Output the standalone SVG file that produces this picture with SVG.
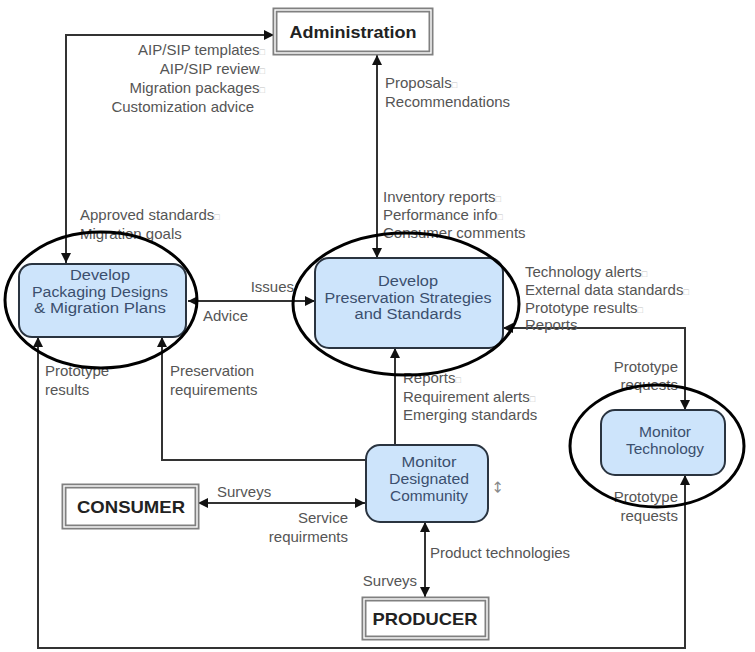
<svg xmlns="http://www.w3.org/2000/svg" width="755" height="652" viewBox="0 0 755 652">
  <style>
    .lbl { font-family: "Liberation Sans", Arial, sans-serif; font-size: 15px; fill: #555; }
    .end { text-anchor: end; }
    .sq { font-size: 9px; fill: #c4c4c4; }
    .proc rect { fill: #cde4fb; stroke: #2a3440; stroke-width: 2; }
    .proc text { font-family: "Liberation Sans", Arial, sans-serif; font-size: 14px; fill: #3b4f6e; text-anchor: middle; }
    .ext .outer { fill: #fff; stroke: #808080; stroke-width: 5; }
    .ext .inner { fill: none; stroke: #fff; stroke-width: 1.4; }
    .ext text { font-family: "Liberation Sans", Arial, sans-serif; font-weight: bold; font-size: 17px; fill: #222; text-anchor: middle; }
    .conn path { fill: none; stroke: #333; stroke-width: 2; }
    .ring { fill: none; stroke: #000; stroke-width: 3; }
  </style>
  <defs>
    <marker id="arr" viewBox="0 0 10 10" refX="10" refY="5" markerWidth="5" markerHeight="5" orient="auto-start-reverse" markerUnits="strokeWidth">
      <path d="M0,0 L10,5 L0,10 z" fill="#111"/>
    </marker>
  </defs>

  <rect width="755" height="652" fill="#fff"/>

  <!-- connectors -->
  <g id="connectors" class="conn">
    <path d="M274,35 H66 V263" marker-start="url(#arr)" marker-end="url(#arr)"/>
    <path d="M377,55 V258" marker-start="url(#arr)" marker-end="url(#arr)"/>
    <path d="M188,301 H315" marker-start="url(#arr)" marker-end="url(#arr)"/>
    <path d="M503,328 H685 V410" marker-start="url(#arr)" marker-end="url(#arr)"/>
    <path d="M38,337 V648 H685 V475" marker-start="url(#arr)" marker-end="url(#arr)"/>
    <path d="M162,337 V460 H366" marker-start="url(#arr)"/>
    <path d="M395,445 V348" marker-end="url(#arr)"/>
    <path d="M198,503 H365" marker-start="url(#arr)" marker-end="url(#arr)"/>
    <path d="M425,522 V597" marker-start="url(#arr)" marker-end="url(#arr)"/>
  </g>

  <!-- flow labels -->
  <g id="labels">
    <text class="lbl end" x="265" y="55">AIP/SIP templates<tspan class="sq">□</tspan></text>
    <text class="lbl end" x="265" y="74">AIP/SIP review<tspan class="sq">□</tspan></text>
    <text class="lbl end" x="265" y="93">Migration  packages<tspan class="sq">□</tspan></text>
    <text class="lbl end" x="254" y="112">Customization advice</text>
    <text class="lbl" x="80" y="220">Approved standards<tspan class="sq">□</tspan></text>
    <text class="lbl" x="80" y="239">Migration goals</text>

    <text class="lbl" x="385" y="88">Proposals<tspan class="sq">□</tspan></text>
    <text class="lbl" x="385" y="107">Recommendations</text>
    <text class="lbl" x="383" y="202">Inventory reports<tspan class="sq">□</tspan></text>
    <text class="lbl" x="383" y="220">Performance info<tspan class="sq">□</tspan></text>
    <text class="lbl" x="383" y="238">Consumer comments</text>

    <text class="lbl" x="525" y="277">Technology alerts<tspan class="sq">□</tspan></text>
    <text class="lbl" x="525" y="295">External data standards<tspan class="sq">□</tspan></text>
    <text class="lbl" x="525" y="313">Prototype results<tspan class="sq">□</tspan></text>
    <text class="lbl" x="525" y="330">Reports</text>

    <text class="lbl end" x="294" y="292">Issues</text>
    <text class="lbl" x="203" y="321">Advice</text>

    <text class="lbl" x="45" y="376">Prototype</text>
    <text class="lbl" x="45" y="395">results</text>
    <text class="lbl" x="170" y="376">Preservation</text>
    <text class="lbl" x="170" y="395">requirements</text>

    <text class="lbl" x="403" y="383">Reports<tspan class="sq">□</tspan></text>
    <text class="lbl" x="403" y="402">Requirement alerts<tspan class="sq">□</tspan></text>
    <text class="lbl" x="403" y="420">Emerging standards</text>

    <text class="lbl end" x="678" y="372">Prototype</text>
    <text class="lbl end" x="678" y="390">requests</text>
    <text class="lbl end" x="678" y="502">Prototype</text>
    <text class="lbl end" x="678" y="521">requests</text>

    <text class="lbl" x="217" y="497">Surveys</text>
    <text class="lbl end" x="348" y="523">Service</text>
    <text class="lbl end" x="348" y="542">requirments</text>

    <text class="lbl" x="430" y="558">Product  technologies</text>
    <text class="lbl end" x="417" y="586">Surveys</text>

    <text x="498" y="487" transform="rotate(90 498 487)" font-family="DejaVu Sans, sans-serif" font-size="15" fill="#888" text-anchor="middle" dominant-baseline="central">↔</text>
  </g>

  <!-- external entities -->
  <g id="administration" class="ext">
    <rect class="outer" x="275" y="10" width="156" height="43"/>
    <rect class="inner" x="275" y="10" width="156" height="43"/>
    <text x="353" y="38" textLength="127" lengthAdjust="spacingAndGlyphs">Administration</text>
  </g>
  <g id="consumer" class="ext">
    <rect class="outer" x="64" y="486" width="133" height="41"/>
    <rect class="inner" x="64" y="486" width="133" height="41"/>
    <text x="131" y="513" textLength="108" lengthAdjust="spacingAndGlyphs">CONSUMER</text>
  </g>
  <g id="producer" class="ext">
    <rect class="outer" x="364" y="599" width="123" height="39"/>
    <rect class="inner" x="364" y="599" width="123" height="39"/>
    <text x="425" y="625" textLength="105" lengthAdjust="spacingAndGlyphs">PRODUCER</text>
  </g>

  <!-- processes -->
  <g id="packaging" class="proc">
    <rect x="19" y="264" width="167" height="73" rx="13"/>
    <text x="100" y="280" textLength="60" lengthAdjust="spacingAndGlyphs">Develop</text>
    <text x="100" y="296.5" textLength="136" lengthAdjust="spacingAndGlyphs">Packaging Designs</text>
    <text x="100" y="313" textLength="132" lengthAdjust="spacingAndGlyphs">&amp; Migration Plans</text>
  </g>
  <g id="preservation" class="proc">
    <rect x="315" y="258" width="188" height="90" rx="14"/>
    <text x="408" y="286" textLength="60" lengthAdjust="spacingAndGlyphs">Develop</text>
    <text x="408" y="302.5" textLength="167" lengthAdjust="spacingAndGlyphs">Preservation Strategies</text>
    <text x="408" y="319" textLength="107" lengthAdjust="spacingAndGlyphs">and Standards</text>
  </g>
  <g id="monitor-community" class="proc">
    <rect x="366" y="445" width="122" height="77" rx="14"/>
    <text x="429" y="467" textLength="55" lengthAdjust="spacingAndGlyphs">Monitor</text>
    <text x="429" y="484" textLength="80" lengthAdjust="spacingAndGlyphs">Designated</text>
    <text x="429" y="501" textLength="78" lengthAdjust="spacingAndGlyphs">Community</text>
  </g>
  <g id="monitor-technology" class="proc">
    <rect x="601" y="410" width="124" height="65" rx="14"/>
    <text x="665" y="437" textLength="52" lengthAdjust="spacingAndGlyphs">Monitor</text>
    <text x="665" y="453.5" textLength="78" lengthAdjust="spacingAndGlyphs">Technology</text>
  </g>

  <!-- highlight rings -->
  <g id="highlights">
    <ellipse class="ring" cx="101" cy="300" rx="96" ry="68"/>
    <ellipse class="ring" cx="406" cy="304" rx="113" ry="71"/>
    <ellipse class="ring" cx="657" cy="446" rx="87" ry="61"/>
  </g>
</svg>
